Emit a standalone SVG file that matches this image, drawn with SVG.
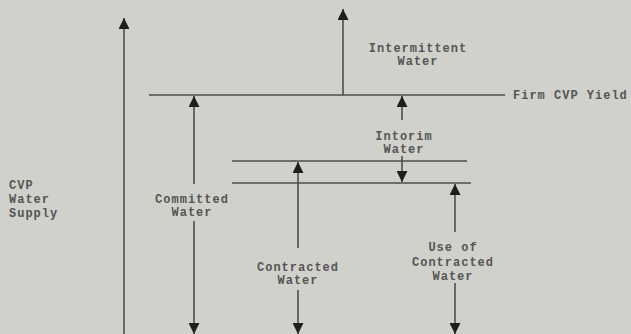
<svg xmlns="http://www.w3.org/2000/svg" width="631" height="334" viewBox="0 0 631 334">
  <defs>
    <marker id="head" markerUnits="userSpaceOnUse" markerWidth="11" markerHeight="11" refX="11" refY="5.5" orient="auto" viewBox="0 0 11 11">
      <path d="M0,0 L11,5.5 L0,11 z" fill="#1e1e1e"/>
    </marker>
    <style>
      .ln { stroke: #4d4d4d; stroke-width: 1.6; fill: none; }
      .ar { stroke: #4d4d4d; stroke-width: 1.6; fill: none; marker-end: url(#head); }
      .tx { font-family: "Liberation Mono", "DejaVu Sans Mono", monospace; font-size: 12px; letter-spacing: 1px; fill: #555555; font-weight: bold; }
      .mid { text-anchor: middle; }
    </style>
  </defs>
  <rect x="0" y="0" width="631" height="334" fill="#d0d1ca"/>

  <g id="levels">
    <g id="firm-cvp-yield">
      <line class="ln" x1="149" y1="95" x2="505" y2="95"/>
      <text class="tx" x="513" y="99">Firm CVP Yield</text>
    </g>
    <g id="interim-upper-level">
      <line class="ln" x1="232" y1="161" x2="467" y2="161"/>
    </g>
    <g id="interim-lower-level">
      <line class="ln" x1="232" y1="183" x2="471" y2="183"/>
    </g>
  </g>

  <g id="labels">
    <g id="cvp-water-supply">
      <text class="tx" x="9" y="189">CVP</text>
      <text class="tx" x="9" y="203">Water</text>
      <text class="tx" x="9" y="217">Supply</text>
    </g>
    <g id="intermittent-water">
      <text class="tx mid" x="418" y="52">Intermittent</text>
      <text class="tx mid" x="418" y="65">Water</text>
    </g>
    <g id="committed-water">
      <text class="tx mid" x="192" y="203">Committed</text>
      <text class="tx mid" x="192" y="216">Water</text>
    </g>
    <g id="interim-water">
      <text class="tx mid" x="404" y="140">Intorim</text>
      <text class="tx mid" x="404" y="153">Water</text>
    </g>
    <g id="contracted-water">
      <text class="tx mid" x="298" y="271">Contracted</text>
      <text class="tx mid" x="298" y="284">Water</text>
    </g>
    <g id="use-of-contracted-water">
      <text class="tx mid" x="453" y="251">Use of</text>
      <text class="tx mid" x="453" y="266">Contracted</text>
      <text class="tx mid" x="453" y="280">Water</text>
    </g>
  </g>

  <g id="connectors">
    <line class="ar" x1="124" y1="340" x2="124" y2="18"/>
    <line class="ar" x1="343" y1="95" x2="343" y2="9"/>
    <line class="ar" x1="194" y1="184" x2="194" y2="96"/>
    <line class="ar" x1="194" y1="221" x2="194" y2="334"/>
    <line class="ar" x1="298" y1="248" x2="298" y2="162"/>
    <line class="ar" x1="298" y1="290" x2="298" y2="334"/>
    <line class="ar" x1="402" y1="120" x2="402" y2="96"/>
    <line class="ar" x1="402" y1="156" x2="402" y2="182"/>
    <line class="ar" x1="455" y1="232" x2="455" y2="184"/>
    <line class="ar" x1="455" y1="283" x2="455" y2="334"/>
  </g>
</svg>
